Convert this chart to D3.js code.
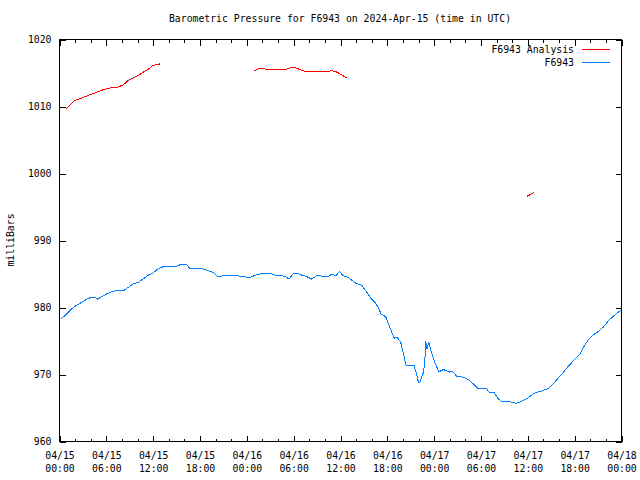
<!DOCTYPE html>
<html><head><meta charset="utf-8">
<script src="https://cdn.jsdelivr.net/npm/d3@7"></script>
<style>
body{margin:0;background:#fff;}
svg{display:block;}
text{font-family:"DejaVu Sans Mono",monospace;font-size:9.8px;fill:#000;}
</style></head><body>
<svg id="chart" width="640" height="480"></svg>
<script>
// ---- data (hours since 2024-04-15 00:00 UTC) ----
const obsHours = [0.2,0.9,1.5,2.2,2.8,3.5,4.0,4.5,4.9,5.4,6.0,6.7,7.3,8.2,8.8,9.4,10.1,10.7,11.4,12.0,12.6,13.3,14.8,15.4,16.3,16.8,17.8,18.4,19.0,19.7,20.3,21.0,21.6,22.5,23.3,24.4,25.2,26.1,26.9,27.6,28.9,29.4,29.9,30.5,31.0,31.6,32.3,33.1,33.8,34.4,34.9,35.4,35.9,36.3,37.0,37.4,38.0,38.7,39.3,40.0,40.4,40.8,41.2,41.8,42.2,42.5,42.9,43.2,43.7,44.0,44.4,45.4,45.7,46.0,46.2,46.6,46.8,46.9,47.1,47.3,47.6,48.1,48.6,49.2,49.9,50.3,50.9,51.7,52.4,53.0,53.7,54.7,55.1,55.7,56.1,56.6,57.7,58.5,59.2,60.0,60.9,61.7,62.6,63.2,63.9,64.5,65.2,66.0,66.7,67.1,67.7,68.2,69.0,69.7,70.3,71.0,71.9];
const obsPressure = [978.3,979.0,979.75,980.35,980.75,981.25,981.5,981.5,981.25,981.6,982.0,982.35,982.5,982.5,983.0,983.5,983.75,984.25,984.85,985.15,985.75,986.1,986.1,986.35,986.35,985.75,985.75,985.75,985.5,985.25,984.6,984.75,984.85,984.85,984.6,984.5,984.85,985.15,985.1,984.85,984.65,984.25,985.0,985.1,984.85,984.65,984.25,984.85,984.6,984.6,985.0,984.75,985.4,984.75,984.5,984.1,983.6,983.35,982.4,981.2,980.8,980.1,979.05,978.6,977.4,976.5,975.4,975.6,974.9,973.4,971.4,971.4,970.25,968.75,968.9,970.25,971.75,975.0,973.75,974.9,973.5,971.75,970.4,970.75,970.35,970.5,969.75,969.6,969.25,968.6,967.85,967.9,967.25,967.3,966.5,966.0,965.95,965.7,966.0,966.5,967.25,967.5,967.9,968.5,969.5,970.25,971.25,972.25,973.1,974.0,975.1,975.75,976.4,977.1,978.0,978.75,979.6];
const anaHours = [0.8,1.9,2.8,3.9,4.7,5.6,6.4,7.5,8.2,8.8,9.9,10.7,11.4,12.0,12.85,null,24.9,25.7,26.3,27.2,28.9,29.9,30.6,31.2,31.6,34.2,34.8,35.5,36.1,36.8,null,59.9,60.8];
const anaPressure = [1009.6,1010.85,1011.25,1011.75,1012.1,1012.5,1012.75,1012.9,1013.25,1013.9,1014.5,1015.1,1015.6,1016.15,1016.35,null,1015.3,1015.75,1015.6,1015.5,1015.5,1015.9,1015.6,1015.35,1015.15,1015.15,1015.35,1015.15,1014.75,1014.25,null,996.6,997.15];
const yTicks = [960,970,980,990,1000,1010,1020];
const seriesNames = ["F6943 Analysis","F6943"];
const seriesColors = ["#ff0000","#0080ff"];
const titleText = "Barometric Pressure for F6943 on 2024-Apr-15 (time in UTC)";
const yLabel = "milliBars";

const t0 = Date.UTC(2024,3,15);
const toDate = h => h==null ? null : new Date(t0 + h*3600000);

const L=59.5, R=621.5, T=39.5, B=441.5;
const svg = d3.select("#chart");
const x = d3.scaleUtc().domain([new Date(t0), new Date(t0+72*3600000)]).range([L,R]);
const y = d3.scaleLinear().domain([960,1020]).range([B,T]);

// frame
svg.append("rect").attr("x",L).attr("y",T).attr("width",R-L).attr("height",B-T)
  .attr("fill","none").attr("stroke","#000").attr("shape-rendering","crispEdges");

const major = d3.range(0,73,6).map(h=>toDate(h));
const minor = d3.range(0,73,2).filter(h=>h%6!==0).map(h=>toDate(h));

function styleAxis(g){ g.select(".domain").remove(); g.selectAll("line").attr("stroke","#000").attr("shape-rendering","crispEdges"); }

// bottom major with labels
const fmtD = d3.utcFormat("%m/%d"), fmtT = d3.utcFormat("%H:%M");
const gb = svg.append("g").attr("transform",`translate(0,${B})`)
  .call(d3.axisBottom(x).tickValues(major).tickSizeInner(-6).tickSizeOuter(0).tickPadding(11).tickFormat(""));
styleAxis(gb);
gb.selectAll(".tick").each(function(d){
  const t = d3.select(this).select("text");
  t.attr("fill","#000").attr("font-size",null).attr("font-family",null);
  t.append("tspan").attr("x",0).attr("dy","0.71em").text(fmtD(d));
  t.append("tspan").attr("x",0).attr("dy","13").text(fmtT(d));
});
svg.append("g").attr("transform",`translate(0,${B})`)
  .call(d3.axisBottom(x).tickValues(minor).tickSizeInner(-3).tickSizeOuter(0).tickFormat("")).call(styleAxis);
// top
svg.append("g").attr("transform",`translate(0,${T})`)
  .call(d3.axisTop(x).tickValues(major).tickSizeInner(-6).tickSizeOuter(0).tickFormat("")).call(styleAxis);
svg.append("g").attr("transform",`translate(0,${T})`)
  .call(d3.axisTop(x).tickValues(minor).tickSizeInner(-3).tickSizeOuter(0).tickFormat("")).call(styleAxis);
// left
const gl = svg.append("g").attr("transform",`translate(${L},0)`)
  .call(d3.axisLeft(y).tickValues(yTicks).tickSizeInner(-6).tickSizeOuter(0).tickPadding(8).tickFormat(d3.format("d")));
styleAxis(gl);
gl.selectAll("text").attr("fill","#000").attr("font-size",null).attr("font-family",null);
// right
svg.append("g").attr("transform",`translate(${R},0)`)
  .call(d3.axisRight(y).tickValues(yTicks).tickSizeInner(-6).tickSizeOuter(0).tickFormat("")).call(styleAxis);

// lines
const lineGen = d3.line().defined(d=>d[1]!=null).x(d=>x(toDate(d[0]))).y(d=>y(d[1]));
const ana = anaHours.map((h,i)=>[h,anaPressure[i]]);
const obs = obsHours.map((h,i)=>[h,obsPressure[i]]);
svg.append("path").datum(ana).attr("d",lineGen).attr("fill","none").attr("stroke",seriesColors[0]).attr("stroke-width",1).attr("shape-rendering","crispEdges");
svg.append("path").datum(obs).attr("d",lineGen).attr("fill","none").attr("stroke",seriesColors[1]).attr("stroke-width",1).attr("shape-rendering","crispEdges");

// title & y label
svg.append("text").attr("x",340).attr("y",19).attr("text-anchor","middle").attr("dy","0.35em").text(titleText);
svg.append("text").attr("transform","translate(11,240) rotate(-90)").attr("text-anchor","middle").attr("dy","0.35em").text(yLabel);

// legend
seriesNames.forEach((n,i)=>{
  const yy = 49.5 + i*13;
  svg.append("text").attr("x",574).attr("y",yy).attr("dy","0.35em").attr("text-anchor","end").text(n);
  svg.append("line").attr("x1",582).attr("x2",610).attr("y1",yy).attr("y2",yy)
    .attr("stroke",seriesColors[i]).attr("stroke-width",1).attr("shape-rendering","crispEdges");
});
</script>
</body></html>
